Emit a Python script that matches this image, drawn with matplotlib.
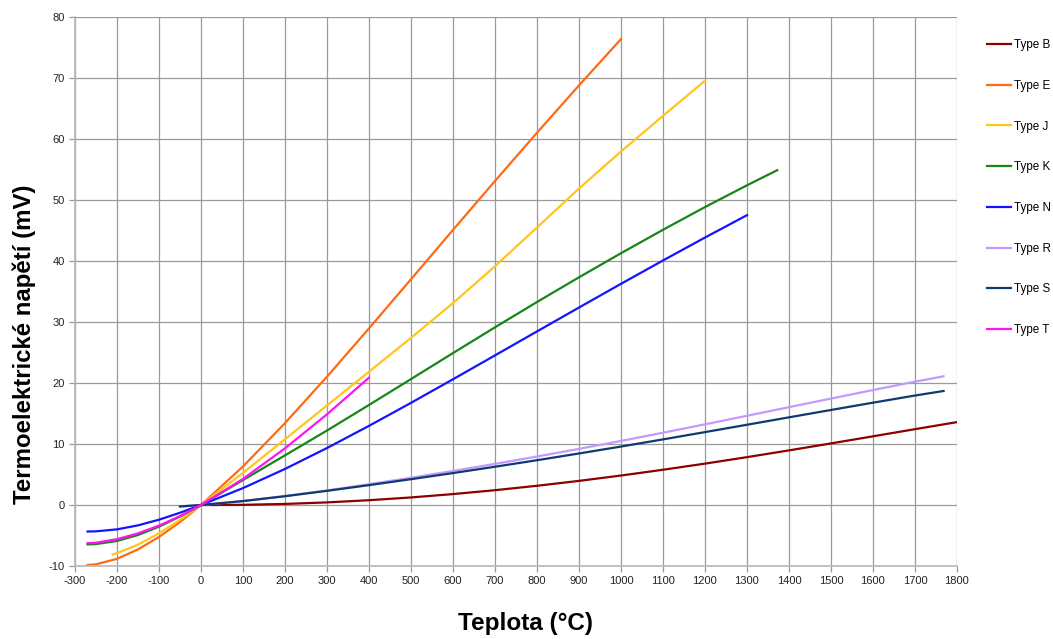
import matplotlib.pyplot as plt

plt.rcParams['font.family'] = ['Liberation Sans', 'DejaVu Sans']
plt.rcParams['axes.unicode_minus'] = False

# thermocouple voltages (mV)
t_b = [0, 100, 200, 300, 400, 500, 600, 700, 800, 900, 1000, 1100, 1200, 1300, 1400, 1500, 1600, 1700, 1800, 1820]
v_b = [0, 0.033, 0.178, 0.431, 0.787, 1.242, 1.792, 2.431, 3.154, 3.957, 4.834, 5.780, 6.786, 7.848, 8.956,
       10.099, 11.263, 12.433, 13.591, 13.820]

t_e = [-270, -250, -200, -150, -100, -50, 0, 100, 200, 300, 400, 500, 600, 700, 800, 900, 1000]
v_e = [-9.835, -9.718, -8.825, -7.279, -5.237, -2.787, 0, 6.319, 13.421, 21.036, 28.946, 37.005, 45.093,
       53.112, 61.017, 68.787, 76.373]

t_j = [-210, -200, -150, -100, -50, 0, 100, 200, 300, 400, 500, 600, 700, 800, 900, 1000, 1100, 1200]
v_j = [-8.095, -7.890, -6.500, -4.633, -2.431, 0, 5.269, 10.779, 16.327, 21.848, 27.393, 33.102, 39.132,
       45.494, 51.877, 57.953, 63.792, 69.553]

t_k = [-270, -250, -200, -150, -100, -50, 0, 100, 200, 300, 400, 500, 600, 700, 800, 900, 1000, 1100, 1200,
       1300, 1372]
v_k = [-6.458, -6.404, -5.891, -4.913, -3.554, -1.889, 0, 4.096, 8.138, 12.209, 16.397, 20.644, 24.905,
       29.129, 33.275, 37.326, 41.276, 45.119, 48.838, 52.410, 54.886]

t_n = [-270, -250, -200, -150, -100, -50, 0, 100, 200, 300, 400, 500, 600, 700, 800, 900, 1000, 1100, 1200, 1300]
v_n = [-4.345, -4.313, -3.990, -3.336, -2.407, -1.269, 0, 2.774, 5.913, 9.341, 12.974, 16.748, 20.613, 24.527,
       28.455, 32.371, 36.256, 40.087, 43.846, 47.513]

t_r = [-50, 0, 100, 200, 300, 400, 500, 600, 700, 800, 900, 1000, 1100, 1200, 1300, 1400, 1500, 1600, 1700, 1768]
v_r = [-0.226, 0, 0.647, 1.469, 2.401, 3.408, 4.471, 5.583, 6.743, 7.950, 9.205, 10.506, 11.850, 13.228,
       14.629, 16.040, 17.451, 18.849, 20.222, 21.101]

t_s = [-50, 0, 100, 200, 300, 400, 500, 600, 700, 800, 900, 1000, 1100, 1200, 1300, 1400, 1500, 1600, 1700, 1768]
v_s = [-0.236, 0, 0.646, 1.441, 2.323, 3.259, 4.233, 5.239, 6.275, 7.345, 8.449, 9.587, 10.757, 11.951,
       13.159, 14.373, 15.582, 16.777, 17.947, 18.693]

t_t = [-270, -250, -200, -150, -100, -50, 0, 100, 200, 300, 400]
v_t = [-6.258, -6.180, -5.603, -4.648, -3.379, -1.819, 0, 4.279, 9.288, 14.862, 20.872]

series = [
    ('Type B', t_b, v_b, '#8B0000'),
    ('Type E', t_e, v_e, '#FF6A13'),
    ('Type J', t_j, v_j, '#FFC61A'),
    ('Type K', t_k, v_k, '#178517'),
    ('Type N', t_n, v_n, '#1414FF'),
    ('Type R', t_r, v_r, '#C299FF'),
    ('Type S', t_s, v_s, '#0F3A6E'),
    ('Type T', t_t, v_t, '#FF14F0'),
]

fig = plt.figure(figsize=(10.53, 6.39), dpi=100)
ax = fig.add_axes([0.0712, 0.1142, 0.8376, 0.8592])

for name, t, v, c in series:
    ax.plot(t, v, color=c, linewidth=1.6, label=name)

ax.set_xlim(-300, 1800)
ax.set_ylim(-10, 80)
ax.set_xticks(range(-300, 1801, 100))
ax.set_yticks(range(-10, 81, 10))
ax.grid(True, color='#9a9a9a', linewidth=0.9)
ax.set_axisbelow(True)
for s in ['top', 'right']:
    ax.spines[s].set_visible(False)
for s in ['left', 'bottom']:
    ax.spines[s].set_color('#b8b8b8')
    ax.spines[s].set_linewidth(1.2)
ax.tick_params(axis='both', labelsize=8, color='#9a9a9a', length=4, width=0.9, labelcolor='#222222')

ax.set_xlabel('Teplota (°C)', fontsize=17.5, fontweight='bold')
ax.set_ylabel('Termoelektrické napětí (mV)', fontsize=17.3, fontweight='bold')
ax.xaxis.set_label_coords(0.511, -0.083)
ax.yaxis.set_label_coords(-0.044, 0.404)

fig.legend(loc='upper left', bbox_to_anchor=(0.933, 0.946), frameon=False, fontsize=8.4,
           handlelength=2.05, handletextpad=0.25, labelspacing=2.46, borderaxespad=0)

plt.savefig('out.png', dpi=100)
